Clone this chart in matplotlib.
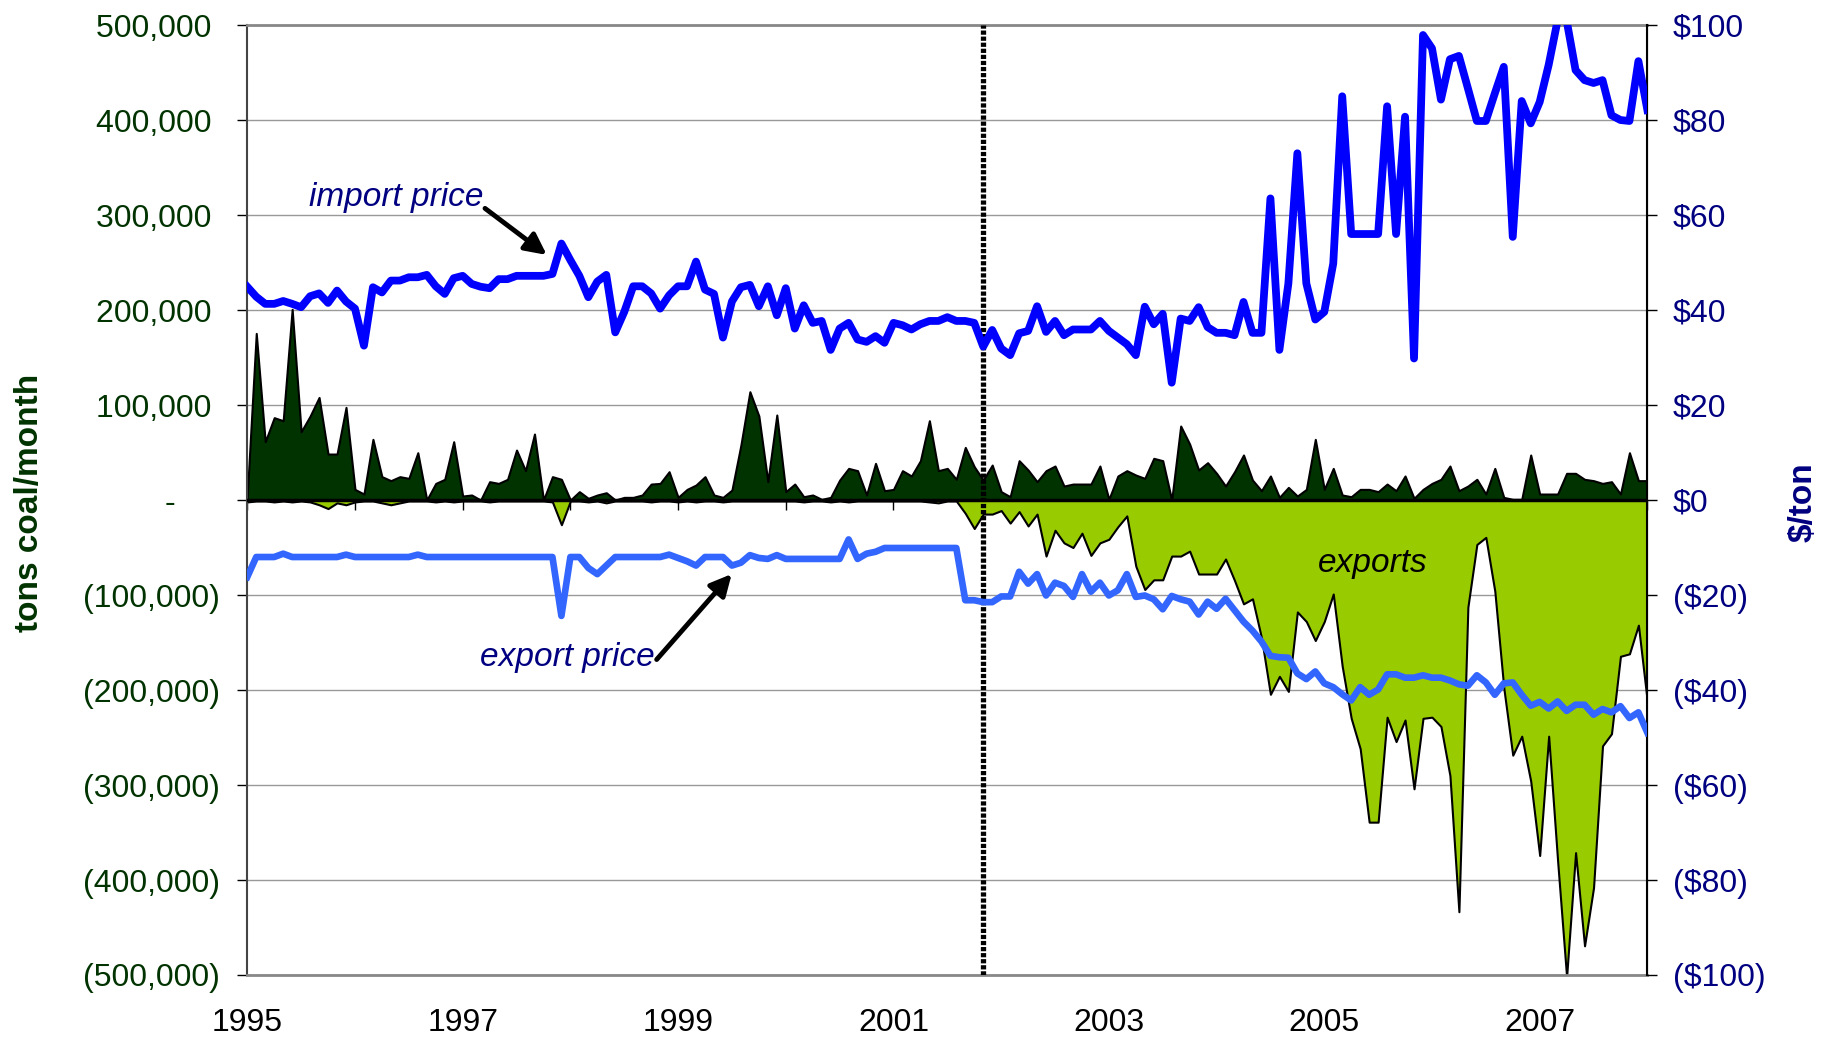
import numpy as np
import matplotlib
matplotlib.use('Agg')
import matplotlib.pyplot as plt
from matplotlib.ticker import FuncFormatter

plt.rcParams['font.family'] = ['Liberation Sans', 'DejaVu Sans']

# dados mensais jan/1995 - jan/2008 (157 meses)
# importacoes e exportacoes em mil toneladas de carvao por mes
importacoes = [
    5, 175.4, 61.4, 86.7, 83.5, 200.7, 71.9, 88.4, 108, 48.4, 48.4, 97.5,
    11.2, 6.3, 63.9, 24.6, 20.4, 24.6, 22.8, 49.8, 0, 17.5, 21.8, 61.4,
    4.2, 5.3, 0, 19.3, 17.5, 21.8, 52.6, 30.9, 69.5, 0, 24.6, 21.8,
    0, 8.8, 1.8, 5.3, 7.7, 0, 2.8, 2.8, 5.3, 16.8, 17.5, 29.8,
    2.8, 11.2, 15.8, 24.6, 5.3, 2.8, 10.5, 57.9, 114, 88.5, 19.3, 89.5,
    8.8, 16.8, 3.5, 5.3, 0.7, 2.8, 21, 33.3, 30.9, 5.3, 38.6, 9.8,
    11.2, 30.9, 25.3, 41.4, 83.5, 30.9, 33.3, 21.8, 55.4, 35.1, 21, 36.8,
    8.8, 3.5, 41.4, 31.6, 19.3, 30.9, 35.8, 14.7, 16.8, 16.8, 16.8, 35.8,
    0.7, 25.3, 30.9, 26.3, 22.8, 43.9, 41.4, 0, 77.9, 58.9, 31.6, 39.3,
    28.1, 14.7, 29.8, 47.4, 21, 9.8, 25.3, 2.8, 13.3, 4.2, 11.2, 63.9,
    11.2, 33.3, 5.3, 3.5, 11.2, 11.2, 8.8, 16.8, 9.8, 25.3, 1.8, 11.2,
    17.5, 21.8, 35.8, 9.8, 14.7, 21.8, 6.3, 33.3, 2.8, 0.7, 0.7, 47.4,
    6.3, 6.3, 6.3, 28.1, 28.1, 21.8, 20.4, 17.5, 19.3, 6.3, 49.8, 20.4,
    20.4,
]

exportacoes = [
    -2, -1, -1, -2, -1, -2, -1, -2, -5, -9, -3, -5,
    -2, -1, -1, -3, -5, -3, -1, -1, -1, -2, -1, -2,
    -1, -1, -1, -2, -1, -1, -1, -1, -1, -1, -2, -26,
    -1, -1, -2, -1, -3, -1, -1, -1, -1, -2, -1, -1,
    -2, -1, -2, -1, -1, -2, -1, -1, -1, -1, -1, -1,
    -1, -1, -2, -1, -1, -2, -1, -2, -1, -1, -1, -1,
    -1, -1, -1, -1, -2, -3, -1, -1, -14, -30, -14.8, -14.8,
    -11.1, -24.3, -12.2, -27.3, -14.8, -59.0, -31.8, -45.1, -50.0, -34.9, -58.3, -45.1,
    -41.3, -28.1, -16.7, -69.6, -94.2, -84.0, -84.0, -59.0, -59.0, -53.8, -77.9, -77.9,
    -77.9, -62.1, -84.7, -109.3, -104, -145, -204.5, -185.6, -201.5, -117.8, -127.9, -147.9,
    -127.9, -98.9, -175.1, -229.8, -261.8, -339.1, -339.1, -228.6, -254.3, -231.6, -304.0, -229.8,
    -228.6, -238.4, -290.1, -433.4, -112.8, -46.8, -39.3, -95.9, -197.7, -268.6, -248.6, -295.8,
    -374.2, -248.6, -380, -502, -371.2, -469.3, -408.1, -258.8, -246.0, -164.5, -161.9, -131.7,
    -212.8,
]

# precos em US$/ton (exportacao plotada como negativa)
preco_importacao = [
    44.9, 42.8, 41.3, 41.3, 41.9, 41.3, 40.6, 42.9, 43.5, 41.5, 44.1, 41.8,
    40.3, 32.5, 44.8, 43.7, 46.2, 46.2, 46.9, 46.9, 47.4, 45.0, 43.4, 46.7,
    47.2, 45.5, 44.9, 44.6, 46.5, 46.5, 47.2, 47.2, 47.2, 47.2, 47.6, 54.0,
    50.5, 47.2, 42.7, 46.0, 47.4, 35.3, 39.6, 45.0, 45.0, 43.5, 40.3, 43.1,
    45.0, 45.0, 50.2, 44.3, 43.4, 34.2, 41.8, 44.8, 45.3, 40.8, 45.0, 38.9,
    44.6, 36.1, 41.0, 37.3, 37.7, 31.6, 36.1, 37.3, 33.8, 33.3, 34.5, 33.1,
    37.3, 36.8, 35.9, 37.0, 37.7, 37.7, 38.5, 37.7, 37.7, 37.3, 32.3, 35.8,
    31.9, 30.5, 35.1, 35.6, 40.8, 35.4, 37.7, 34.7, 35.9, 35.9, 35.9, 37.7,
    35.6, 34.2, 32.8, 30.5, 40.7, 37.0, 39.2, 24.7, 38.2, 37.7, 40.6, 36.4,
    35.2, 35.2, 34.7, 41.7, 35.2, 35.2, 63.5, 31.6, 45.6, 73.0, 45.6, 38.0,
    39.6, 49.8, 85.0, 56.0, 56.0, 56.0, 56.0, 82.9, 56.0, 80.7, 29.8, 97.9,
    95.1, 84.3, 92.8, 93.5, 86.7, 79.8, 79.8, 85.6, 91.2, 55.4, 84.0, 79.3,
    83.8, 91.6, 101, 101, 90.5, 88.4, 87.8, 88.4, 81.0, 80.0, 79.8, 92.4,
    82.1,
]

preco_exportacao = [
    -16.2, -12.0, -12.0, -12.0, -11.3, -12.0, -12.0, -12.0, -12.0, -12.0, -12.0, -11.5,
    -12.0, -12.0, -12.0, -12.0, -12.0, -12.0, -12.0, -11.5, -12.0, -12.0, -12.0, -12.0,
    -12.0, -12.0, -12.0, -12.0, -12.0, -12.0, -12.0, -12.0, -12.0, -12.0, -12.0, -24.4,
    -12.0, -12.0, -14.3, -15.6, -13.8, -12.0, -12.0, -12.0, -12.0, -12.0, -12.0, -11.5,
    -12.2, -12.9, -13.8, -12.0, -12.0, -12.0, -13.8, -13.2, -11.6, -12.2, -12.4, -11.6,
    -12.4, -12.4, -12.4, -12.4, -12.4, -12.4, -12.4, -8.3, -12.4, -11.3, -10.9, -10.1,
    -10.1, -10.1, -10.1, -10.1, -10.1, -10.1, -10.1, -10.1, -21.1, -21.1, -21.5, -21.5,
    -20.3, -20.3, -15.1, -17.6, -15.6, -20.1, -17.4, -18.1, -20.4, -15.6, -19.3, -17.4,
    -20.1, -19.0, -15.6, -20.4, -20.1, -20.9, -23.0, -20.2, -20.9, -21.4, -24.1, -21.4,
    -22.9, -20.8, -23.2, -25.6, -27.5, -29.8, -32.8, -33.1, -33.2, -36.5, -37.7, -36.1,
    -38.6, -39.4, -40.9, -42.2, -39.4, -41.0, -39.9, -36.7, -36.7, -37.4, -37.4, -36.9,
    -37.4, -37.4, -38.0, -38.8, -39.1, -36.9, -38.4, -41.0, -38.6, -38.4, -41.0, -43.3,
    -42.5, -43.9, -42.4, -44.4, -43.1, -43.1, -45.2, -44.0, -44.7, -43.4, -45.9, -44.7,
    -49.0,
]

anos = ['1995', '1997', '1999', '2001', '2003', '2005', '2007']
mes_marcado = 82  # linha pontilhada (nov/2001)

meses = np.arange(len(importacoes))
imp = np.array(importacoes) * 1000
exp_ = np.array(exportacoes) * 1000

verde_escuro = '#003300'
azul_escuro = '#000080'


def fmt_tons(v, pos):
    # formato tipo excel: positivos com espaco no lugar do parentese
    if abs(v) < 1:
        return '-\u2007\u2007 '
    if v < 0:
        return '({:,.0f})'.format(-v)
    return '{:,.0f} '.format(v)


def fmt_preco(v, pos):
    if v < 0:
        return '(${:.0f})'.format(-v)
    return '${:.0f}'.format(v)


fig = plt.figure(figsize=(18.29, 10.39), dpi=100)
ax = fig.add_axes([0.1352, 0.0616, 0.7655, 0.9143])

# areas de importacao e exportacao
ax.fill_between(meses, 0, imp, facecolor=verde_escuro, edgecolor='black', lw=1.5, zorder=2)
ax.fill_between(meses, 0, exp_, facecolor='#99CC00', edgecolor='black', lw=1.5, zorder=2)
ax.axhline(0, color='black', lw=2.5, zorder=3)
ax.axvline(mes_marcado, color='black', lw=3.8, linestyle=(0, (0.8, 0.35)), zorder=4)

ax.set_xlim(0, len(meses) - 1)
ax.set_ylim(-500000, 500000)
ax.set_yticks(np.arange(-500000, 500001, 100000))
ax.yaxis.set_major_formatter(FuncFormatter(fmt_tons))
ax.grid(axis='y', color='#999999', lw=1)
ax.set_axisbelow(True)
ax.set_xticks(np.arange(0, len(meses), 24)[:len(anos)])
ax.set_xticklabels(anos)
ax.tick_params(axis='x', length=0, pad=24, labelsize=23)
ax.tick_params(axis='y', direction='out', length=7.5, width=1, pad=12,
               labelsize=23, labelcolor=verde_escuro)
for lado in ['top', 'bottom']:
    ax.spines[lado].set_color('#888888')
    ax.spines[lado].set_linewidth(2)
ax.spines['left'].set_color('#444444')
ax.spines['left'].set_linewidth(1.5)

# marcas anuais no eixo zero
sec = ax.secondary_xaxis(0.5)
sec.set_alignment('bottom')
sec.set_xticks(np.arange(0, len(meses), 12))
sec.tick_params(axis='x', direction='out', length=7.5, width=1,
                labelbottom=False, labeltop=False)
sec.spines['bottom'].set_visible(False)
sec.spines['top'].set_visible(False)

# precos no eixo direito
ax2 = ax.twinx()
ax2.plot(meses, preco_importacao, color='#0000FF', lw=5.6, solid_joinstyle='round', zorder=5)
ax2.plot(meses, preco_exportacao, color='#3366FF', lw=4.8, solid_joinstyle='round', zorder=5)
ax2.set_ylim(-100, 100)
ax2.set_yticks(np.arange(-100, 101, 20))
ax2.yaxis.set_major_formatter(FuncFormatter(fmt_preco))
ax2.tick_params(axis='y', direction='out', length=7.5, width=1, pad=11,
                labelsize=23, labelcolor=azul_escuro)
ax2.spines['right'].set_color('black')
ax2.spines['right'].set_linewidth(1.5)
for lado in ['top', 'bottom', 'left']:
    ax2.spines[lado].set_visible(False)

# rotulos
ax2.text(0.1061, 0.818, 'import price', transform=ax.transAxes, ha='center', va='center',
         style='italic', color=azul_escuro, fontsize=24)
ax2.annotate('', xy=(0.2139, 0.758), xytext=(0.1698, 0.807), xycoords='axes fraction',
             arrowprops=dict(arrowstyle='-|>', color='black', lw=3.5, mutation_scale=32,
                             shrinkA=0, shrinkB=0))
ax2.text(0.2284, 0.334, 'export price', transform=ax.transAxes, ha='center', va='center',
         style='italic', color=azul_escuro, fontsize=24)
ax2.annotate('', xy=(0.346, 0.4221), xytext=(0.2924, 0.3321), xycoords='axes fraction',
             arrowprops=dict(arrowstyle='-|>', color='black', lw=3.5, mutation_scale=32,
                             shrinkA=0, shrinkB=0))
ax2.text(0.804, 0.4332, 'exports', transform=ax.transAxes, ha='center', va='center',
         style='italic', color='black', fontsize=24)

fig.text(0.0159, 0.516, 'tons coal/month', rotation=90, ha='center', va='center',
         fontsize=24, fontweight='bold', color=verde_escuro)
fig.text(0.9858, 0.5168, '$/ton', rotation=90, ha='center', va='center',
         fontsize=24, fontweight='bold', color=azul_escuro)

fig.savefig('out.png', dpi=100)
